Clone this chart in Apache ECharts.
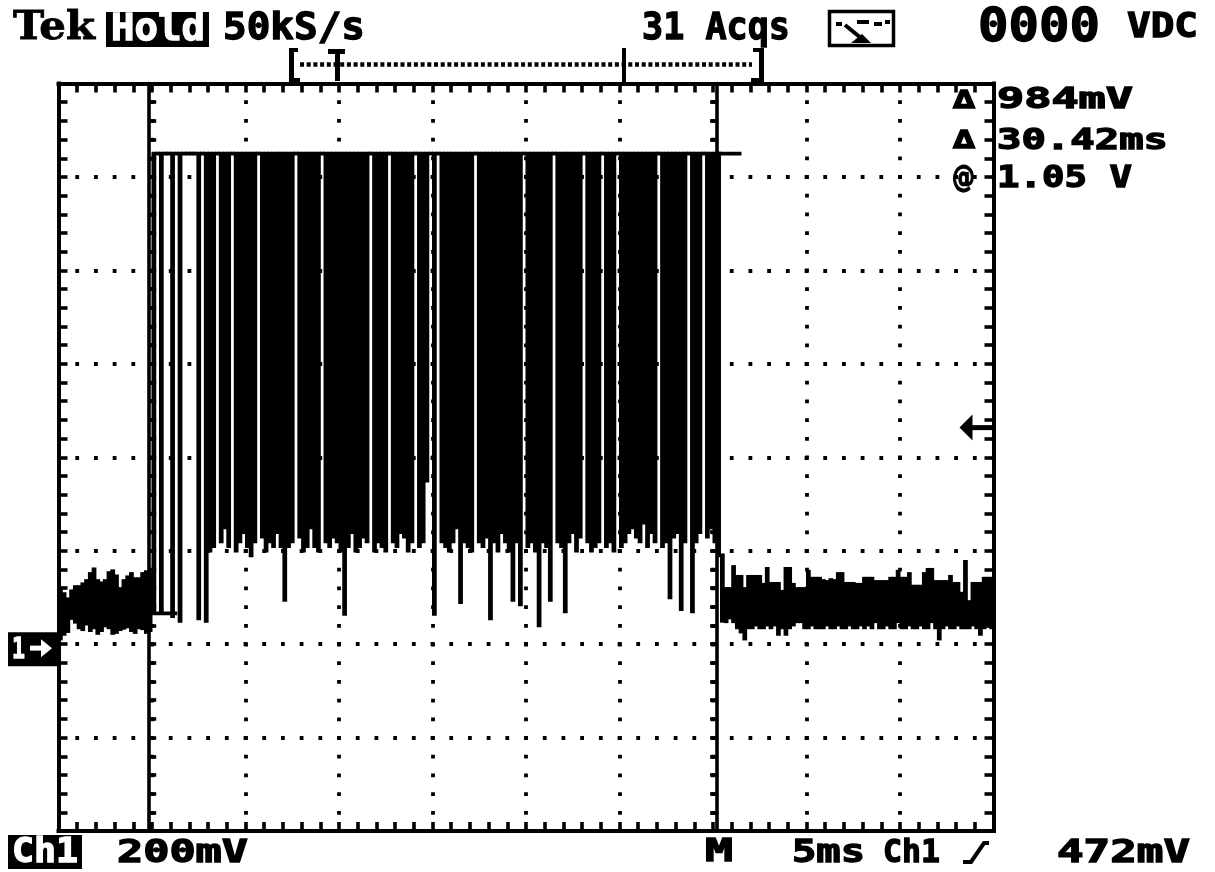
<!DOCTYPE html>
<html><head><meta charset="utf-8">
<script src="https://cdn.jsdelivr.net/npm/echarts@6/dist/echarts.min.js"></script>
<style>html,body{margin:0;padding:0;background:#fff}#c{width:1215px;height:872px}</style>
</head><body><div id="c"></div>
<script>
// ---- scope settings ----
const COL_MS = 0.2;          // one LCD column = 0.2 ms (250 columns over 50 ms)
const TIME_MAX = 50, T_DIV = 5;
const V_MIN = -0.4, V_MAX = 1.2, V_DIV = 0.2;
const HIGH = 1.05;           // high level of the burst (V)

// ---- waveform, per LCD column: min/max voltage (V) ----
// noise before burst (columns 0..24)
const preHi = [0.118,0.107,0.096,0.113,0.122,0.122,0.128,0.135,0.150,0.160,
               0.135,0.130,0.135,0.152,0.156,0.145,0.118,0.135,0.143,0.150,
               0.139,0.139,0.150,0.154,0.150];
const preLo = [0.012,0.022,0.028,0.056,0.048,0.036,0.032,0.044,0.030,0.036,
               0.024,0.030,0.040,0.036,0.024,0.026,0.032,0.035,0.038,0.030,
               0.026,0.036,0.034,0.026,0.030];
// burst (columns 25..176): minimum reached in the column, max = HIGH
const burstLo = [0.07,1.05,0.07,1.05,1.05,0.06,1.05,0.05,1.05,1.05,
                 1.05,1.05,0.055,1.05,0.05,0.20,0.21,1.05,0.22,0.25,
                 0.21,1.05,0.20,0.22,0.24,0.21,0.19,0.22,1.05,0.23,
                 0.20,0.22,0.21,0.24,0.21,0.095,0.21,0.22,1.05,0.23,
                 0.20,0.21,0.25,0.21,0.20,1.05,0.22,0.21,0.23,0.22,
                 0.20,0.065,0.21,0.24,0.20,0.21,0.23,0.22,1.05,0.20,
                 0.22,0.21,0.20,1.05,0.22,0.21,0.24,0.23,0.20,0.22,
                 1.05,0.21,0.22,0.35,1.05,0.065,1.05,0.22,0.21,0.20,
                 0.22,0.25,0.09,0.22,0.21,0.20,1.05,0.22,0.21,0.23,
                 0.055,0.22,0.20,0.24,0.22,0.20,0.095,0.22,0.085,1.05,
                 0.21,0.22,0.20,0.04,0.22,0.21,0.095,1.05,0.22,0.21,
                 0.07,0.22,0.24,0.20,0.23,1.05,0.22,0.20,0.21,0.22,
                 1.05,0.21,0.22,0.20,1.05,0.21,0.22,0.24,0.25,0.23,
                 0.22,0.26,0.21,0.24,0.22,1.05,0.21,0.22,0.10,0.23,
                 0.24,0.075,0.22,1.05,0.07,0.22,0.24,1.05,0.23,0.25,
                 0.22,0.19];
// noise after burst (columns 177..249)
const postHi = [0.19,
  0.118,0.118,0.165,0.144,0.144,0.118,0.144,0.144,0.144,0.144,
  0.127,0.161,0.129,0.129,0.129,0.112,0.161,0.161,0.127,0.118,
  0.118,0.118,0.155,0.140,0.140,0.140,0.135,0.133,0.137,0.135,
  0.150,0.150,0.129,0.129,0.129,0.127,0.127,0.140,0.140,0.140,
  0.133,0.133,0.133,0.133,0.140,0.140,0.155,0.140,0.140,0.150,
  0.123,0.123,0.123,0.150,0.159,0.159,0.133,0.133,0.133,0.133,
  0.144,0.129,0.129,0.108,0.176,0.090,0.129,0.129,0.129,0.140,
  0.140,0.140];
const postLo = [0.05,
  0.049,0.057,0.049,0.036,0.027,0.012,0.036,0.036,0.042,0.036,
  0.036,0.042,0.036,0.042,0.022,0.036,0.022,0.036,0.042,0.049,
  0.049,0.036,0.036,0.042,0.036,0.036,0.036,0.042,0.036,0.036,
  0.042,0.036,0.036,0.042,0.036,0.036,0.042,0.036,0.042,0.036,
  0.049,0.036,0.036,0.042,0.036,0.036,0.049,0.036,0.036,0.042,
  0.036,0.036,0.042,0.036,0.036,0.049,0.036,0.012,0.036,0.042,
  0.036,0.036,0.042,0.036,0.036,0.036,0.042,0.036,0.022,0.036,
  0.042,0.036];

// cursors
const cursorTimes  = [4.85, 35.22];   // ms
const cursorLevels = [0.066, 1.05];   // V
const cursorMarkLen = [1.5, 1.3];     // ms
const triggerLevel = 0.472;           // V
const groundLevel = 0;

// ---- build column table ----
const cols = [];
preHi.forEach((h, i) => cols.push([i * COL_MS, preLo[i], h]));
burstLo.forEach((l, i) => cols.push([(preHi.length + i) * COL_MS, l, HIGH]));
const postStart = preHi.length + burstLo.length;
postHi.forEach((h, i) => cols.push([(postStart + i) * COL_MS, postLo[i], h]));

const GL = 58.5, GT = 83.5, GW = 935, GH = 747.5;
const chart = echarts.init(document.getElementById('c'), null, {renderer: 'canvas', width: 1215, height: 872});

const frameLine = {show: true, onZero: false, lineStyle: {color: '#000', width: 4, cap: 'square'}};
const frameTick = {show: true, inside: true, length: 9, lineStyle: {color: '#000', width: 3.6}};
const frameMinor = {show: true, splitNumber: 5, length: 9, lineStyle: {color: '#000', width: 3.6}};
const dotted = {show: true, lineStyle: {color: '#000', width: 3.8, type: [3.8, 14.9], dashOffset: 1.9}};
const curLine = {show: true, onZero: false, lineStyle: {color: '#000', width: 3.6}};
const curTick = {show: true, inside: true, length: 7, lineStyle: {color: '#000', width: 3.6}};
const curMinor = {show: true, splitNumber: 5, length: 7, lineStyle: {color: '#000', width: 3.6}};

const xBase = {type: 'value', min: 0, max: TIME_MAX, interval: T_DIV, axisLabel: {show: false}};
const yBase = {type: 'value', min: V_MIN, max: V_MAX, interval: V_DIV, axisLabel: {show: false}};

const off1 = cursorTimes[0] / TIME_MAX * GW;
const off2 = cursorTimes[1] / TIME_MAX * GW;

function renderItem(params, api) {
  const t = api.value(0), lo = api.value(1), hi = api.value(2);
  const a = api.coord([t, hi]), b = api.coord([t, lo]);
  const w = api.size([COL_MS, 0])[0];
  return {type: 'rect', shape: {x: a[0] - 0.5, y: a[1] - 1.9, width: w + 1.0, height: (b[1] - a[1]) + 3.8},
          style: {fill: '#000'}};
}

const markerSeries = cursorTimes.map((t, i) => ({
  type: 'line', xAxisIndex: 0, yAxisIndex: 0, symbol: 'none', silent: true, z: 5,
  lineStyle: {color: '#000', width: 3.8},
  data: [[t, cursorLevels[i]], [t + cursorMarkLen[i], cursorLevels[i]]]
}));

chart.setOption({
  animation: false,
  backgroundColor: '#fff',
  grid: {left: GL, top: GT, width: GW, height: GH, show: false},
  xAxis: [
    Object.assign({}, xBase, {position: 'bottom', axisLine: frameLine, axisTick: frameTick, minorTick: frameMinor, splitLine: dotted}),
    Object.assign({}, xBase, {position: 'top', axisLine: frameLine, axisTick: frameTick, minorTick: frameMinor, splitLine: {show: false}})
  ],
  yAxis: [
    Object.assign({}, yBase, {position: 'left', axisLine: frameLine, axisTick: frameTick, minorTick: frameMinor, splitLine: dotted}),
    Object.assign({}, yBase, {position: 'right', axisLine: frameLine, axisTick: frameTick, minorTick: frameMinor, splitLine: {show: false}}),
    Object.assign({}, yBase, {position: 'left', offset: -off1, axisLine: curLine, axisTick: curTick, minorTick: curMinor, splitLine: {show: false}}),
    Object.assign({}, yBase, {position: 'right', offset: -(GW - off2), axisLine: curLine, axisTick: curTick, minorTick: curMinor, splitLine: {show: false}})
  ],
  series: [{
    type: 'custom', xAxisIndex: 0, yAxisIndex: 0, renderItem: renderItem, z: 4,
    encode: {x: 0, y: [1, 2]}, data: cols, silent: true
  }].concat(markerSeries)
});

// ---- annotations (scope screen text) ----
const meas = document.createElement('canvas').getContext('2d');
function txt(str, left, top, w, h, o) {
  o = o || {};
  const fam = o.family || 'DejaVu Sans Mono';
  const fs = h / (o.cap || 0.729);
  meas.font = 'bold ' + fs + 'px "' + fam + '"';
  const mw = meas.measureText(str).width;
  const col = o.fill || '#000';
  return {type: 'text', x: left, y: top + h / 2 + 2, scaleX: w / mw, z: 200,
    style: {text: str, x: 0, y: 0, fill: col, stroke: col, lineWidth: o.lw === undefined ? 1.3 : o.lw,
            fontSize: fs, fontFamily: fam, fontWeight: 'bold', align: 'left', verticalAlign: 'middle'}};
}
function rect(x, y, w, h, fill) {
  return {type: 'rect', z: 150, shape: {x: x, y: y, width: w, height: h}, style: {fill: fill || '#000'}};
}
function pline(points, lw, dash) {
  return {type: 'polyline', z: 150, shape: {points: points}, style: {stroke: '#000', lineWidth: lw, fill: null, lineDash: dash || null}};
}
function poly(points, fill) {
  return {type: 'polygon', z: 201, shape: {points: points}, style: {fill: fill || '#000'}};
}

const yTrig = chart.convertToPixel({yAxisIndex: 0}, triggerLevel) + 4;
const yGnd = chart.convertToPixel({yAxisIndex: 0}, groundLevel);
const xR = GL + GW;

const g = [
  // header
  txt('Tek', 13, 12, 82, 29, {family: 'DejaVu Serif', lw: 0.8}),
  rect(106, 12, 103, 35),
  txt('Hold', 111, 15, 94, 27, {fill: '#fff'}),
  txt('50kS/s', 223, 14, 142, 27),
  txt('31 Acqs', 642, 14, 148, 27),
  {type: 'rect', z: 150, shape: {x: 829.5, y: 11.5, width: 64, height: 34}, style: {fill: null, stroke: '#000', lineWidth: 3.5}},
  rect(836, 22, 6, 4), rect(857, 20, 12, 4), rect(874, 22, 8, 4), rect(885, 20, 5, 4),
  pline([[845, 25], [861, 38]], 4),
  poly([[851, 43], [871, 43], [862, 34]]),
  txt('0000', 978, 10, 122, 34),
  txt('VDC', 1127, 14, 71, 25),
  // record bar
  rect(289, 48, 5, 34), rect(289, 48, 9, 4), rect(289, 78, 11, 4),
  pline([[300, 64.5], [752, 64.5]], 4.5, [4, 2.7]),
  rect(328, 49, 17, 5), rect(335, 49, 5, 32),
  rect(622, 48, 4, 34),
  rect(759, 48, 5, 34), rect(753, 48, 11, 4), rect(751, 78, 13, 4),
  // readouts
  txt('\u0394', 953, 91, 22, 18, {family: 'DejaVu Sans'}),
  txt('\u0394', 953, 131, 22, 18, {family: 'DejaVu Sans'}),
  txt('@', 952, 166, 23, 22, {family: 'DejaVu Sans'}),
  txt('984mV', 997, 88, 136, 21),
  txt('30.42ms', 997, 129, 171, 21),
  txt('1.05 V', 997, 166, 135, 22),
  // trigger level arrow
  poly([[xR - 34, yTrig], [xR - 21, yTrig - 13], [xR - 21, yTrig + 13]]),
  rect(xR - 22, yTrig - 2.5, 22, 5),
  // ground marker
  rect(8, yGnd - 12, 52, 34),
  txt('1', 12, yGnd - 6, 13, 21, {fill: '#fff'}),
  rect(30, yGnd + 1.5, 14, 5, '#fff'),
  poly([[41, yGnd - 5], [52, yGnd + 4], [41, yGnd + 13]], '#fff'),
  // footer
  rect(8, 835, 74, 34),
  txt('Ch1', 12, 839, 66, 24, {fill: '#fff'}),
  txt('200mV', 117, 840, 131, 23),
  txt('M', 705, 839, 28, 23),
  txt('5ms', 792, 840, 73, 23),
  txt('Ch1', 883, 840, 57, 23),
  pline([[963, 862], [971, 862], [984, 843], [989, 843]], 4),
  txt('472mV', 1057, 840, 133, 23)
];
chart.setOption({graphic: {elements: g}});
</script>
</body></html>
